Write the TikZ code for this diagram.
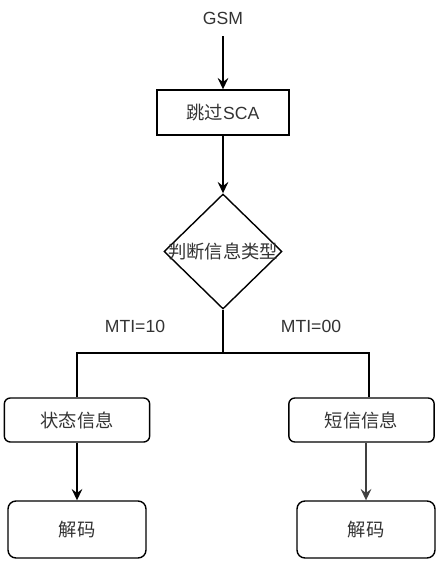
\documentclass[tikz,border=0pt]{standalone}
\usepackage{fontspec}
\setmainfont{Liberation Sans}
\newfontfamily\cjk[Scale=1.04]{Noto Sans CJK SC}
\usetikzlibrary{positioning, shapes, arrows, arrows.meta}
\definecolor{txtgray}{rgb}{0.2,0.2,0.2}

\begin{document}
\begin{tikzpicture}[x=0.75pt,y=-0.75pt]
\tikzstyle{every node}=[font=\fontsize{13.2}{15}\selectfont, text=txtgray, inner sep=0pt];
\tikzstyle{proc}=[draw=black, line width=1.05pt, minimum width=99pt, minimum height=33.75pt];
\tikzstyle{state}=[draw=black, line width=1.05pt, rounded corners=4.5pt, minimum width=109pt, minimum height=33pt];
\tikzstyle{decode}=[draw=black, line width=1.05pt, rounded corners=6pt, minimum width=103.5pt, minimum height=42.75pt];
\tikzstyle{decision}=[draw=black, line width=1.05pt, shape=diamond, minimum width=88.5pt, minimum height=86.25pt];
\tikzstyle{flow}=[line width=1.05pt, -{Stealth[length=8.5pt, width=8pt, inset=3pt]}];
\tikzstyle{bus}=[line width=2.1pt];
\useasboundingbox (0,0) rectangle (439,563);
\path (223,18) node (gsm) {GSM};
\path (223,112.5) node [proc] (sca) {{\cjk 跳过}SCA};
\path (223,251.5) node [decision, label=center:{\cjk 判断信息类型}] (type) {};
\coordinate (split) at (223,353);
\coordinate (rjoin) at (369,353);
\path (77,420) node [state] (status) {\cjk 状态信息};
\path (361.5,420) node [state] (sms) {\cjk 短信信息};
\path (77,529.5) node [decode] (dec1) {\cjk 解码};
\path (366,529.5) node [decode] (dec2) {\cjk 解码};
\path (135,326) node (mti10) {MTI=10};
\path (311,326) node (mti00) {MTI=00};
\draw [flow] ([yshift=-9pt]gsm.south) -- (sca);
\draw [flow] (sca) -- (type);
\draw [bus] (type.south) -- (split);
\draw [bus] (status.north) |- (split) -- (rjoin) -- (sms.north -| rjoin);
\draw [flow] (status) -- (dec1);
\draw [flow, draw=black!75] (sms.south -| dec2) -- (dec2.north);
\end{tikzpicture}
\end{document}
